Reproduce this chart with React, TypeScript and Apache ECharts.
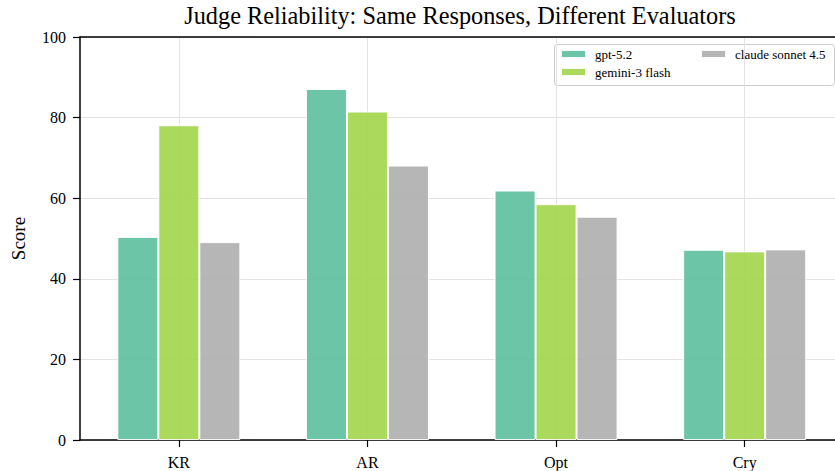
import React, { useEffect, useRef } from "react";
import * as echarts from "echarts";

const categories = ["KR", "AR", "Opt", "Cry"];
const gpt52 = [50.4, 87.1, 61.9, 47.2];
const gemini3Flash = [78.1, 81.5, 58.5, 46.8];
const claudeSonnet45 = [49.1, 68.1, 55.4, 47.3];
const yTicks = [0, 20, 40, 60, 80, 100];

const SERIF = "'Liberation Serif', 'DejaVu Serif', serif";
const colors = ["#5fc0a0", "#a3d64e", "#b0b0b0"];

export default function App() {
  const ref = useRef<HTMLDivElement>(null);

  useEffect(() => {
    if (!ref.current) return;
    const chart = echarts.init(ref.current, null, { renderer: "svg" });
    const catIdx = categories.map((_, i) => i);
    const mk = (name: string, vals: number[], color: string) => ({
      name,
      type: "bar",
      xAxisIndex: 0,
      yAxisIndex: 0,
      barWidth: 41,
      barGap: "0%",
      data: vals.map((v, i) => [i, v]),
      itemStyle: { color, opacity: 0.92, borderColor: "#ffffff", borderWidth: 1 },
      emphasis: { disabled: true },
    });
    const legendText = { fontFamily: SERIF, fontSize: 13, color: "#000", padding: [0, 0, 0, 4], lineHeight: 14 };
    chart.setOption({
      animation: false,
      backgroundColor: "#ffffff",
      title: {
        text: "Judge Reliability: Same Responses, Different Evaluators",
        left: 460,
        textAlign: "center",
        top: 3,
        padding: 0,
        textStyle: { fontFamily: SERIF, fontSize: 24.3, fontWeight: "normal", color: "#000" },
      },
      grid: { left: 80, right: 0, top: 37, bottom: 31 },
      legend: [
        {
          data: ["gpt-5.2", "gemini-3 flash"],
          orient: "vertical",
          left: 560,
          top: 47,
          padding: 0,
          itemWidth: 25,
          itemHeight: 8,
          itemGap: 4,
          icon: "rect",
          textStyle: legendText,
        },
        {
          data: ["claude sonnet 4.5"],
          orient: "vertical",
          left: 700,
          top: 47,
          padding: 0,
          itemWidth: 25,
          itemHeight: 8,
          itemGap: 4,
          icon: "rect",
          textStyle: legendText,
        },
      ],
      graphic: [
        {
          type: "rect",
          left: 554,
          top: 44,
          shape: { width: 280, height: 41, r: 3 },
          style: { fill: "rgba(255,255,255,0.8)", stroke: "#cccccc", lineWidth: 1 },
          z: 0,
          silent: true,
        },
      ],
      xAxis: [
        {
          type: "value",
          min: -0.524,
          max: 3.479,
          position: "bottom",
          axisLine: { show: true, onZero: false, lineStyle: { color: "#000", width: 1.5 } },
          axisTick: { show: true, length: 7, inside: false, customValues: catIdx, lineStyle: { color: "#000", width: 1.2 } },
          axisLabel: {
            customValues: catIdx,
            formatter: (v: number) => categories[Math.round(v)] ?? "",
            fontFamily: SERIF,
            fontSize: 16,
            color: "#000",
            margin: 14,
          },
          splitLine: { show: true, lineStyle: { color: "#e3e3e3", width: 1 } },
        },
        {
          type: "value",
          min: -0.524,
          max: 3.479,
          position: "top",
          axisLine: { show: true, onZero: false, lineStyle: { color: "#000", width: 1.5 } },
          axisTick: { show: false },
          axisLabel: { show: false },
          splitLine: { show: false },
        },
      ],
      yAxis: {
        type: "value",
        min: yTicks[0],
        max: yTicks[yTicks.length - 1],
        interval: 20,
        name: "Score",
        nameLocation: "middle",
        nameGap: 52,
        nameTextStyle: { fontFamily: SERIF, fontSize: 19, color: "#000" },
        axisLine: { show: true, onZero: false, lineStyle: { color: "#000", width: 1.5 } },
        axisTick: { show: true, length: 7, inside: false, lineStyle: { color: "#000", width: 1.2 } },
        axisLabel: { fontFamily: SERIF, fontSize: 16, color: "#000", margin: 14 },
        splitLine: { show: true, lineStyle: { color: "#e3e3e3", width: 1 } },
      },
      series: [
        mk("gpt-5.2", gpt52, colors[0]),
        mk("gemini-3 flash", gemini3Flash, colors[1]),
        mk("claude sonnet 4.5", claudeSonnet45, colors[2]),
      ],
    });
    return () => chart.dispose();
  }, []);

  return <div ref={ref} style={{ width: 835, height: 471, position: "absolute", left: 0, top: 0 }} />;
}
